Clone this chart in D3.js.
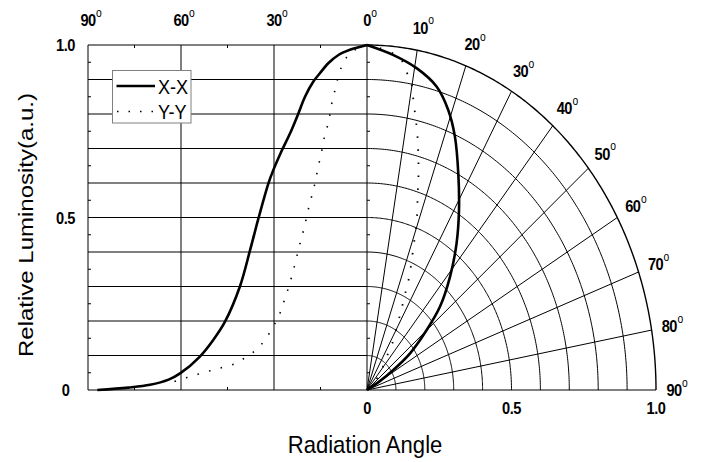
<!DOCTYPE html>
<html>
<head>
<meta charset="utf-8">
<script src="https://cdn.jsdelivr.net/npm/d3@7/dist/d3.min.js"></script>
<style>
  body { margin: 0; background: #fff; }
  svg { display: block; font-family: "Liberation Sans", Arial, sans-serif; }
</style>
</head>
<body>
<svg id="chart"></svg>
<script>
// ---- data ----
// left (cartesian) half: angle in degrees, relative luminosity
const leftAngleXX = [0, 5.5, 9.2, 12.5, 15.2, 17.3, 20, 22.2, 24.8, 27.7, 30.2, 31.8, 35, 37.7, 41, 45.8, 49.6, 53.9, 60.3, 64, 70, 77, 87];
const leftXX      = [1.0, 0.986, 0.971, 0.947, 0.918, 0.894, 0.85, 0.80, 0.744, 0.69, 0.638, 0.599, 0.498, 0.406, 0.30, 0.198, 0.145, 0.097, 0.048, 0.030, 0.015, 0.007, 0.0];
const leftAngleYY = [0, 3, 6, 8.2, 9.5, 10.5, 11.4, 12.1, 13, 14.1, 14.8, 15.7, 16.5, 17.4, 18.5, 19.4, 20.3, 21.4, 22.4, 23.4, 25.2, 27, 28.4, 30.4, 32.9, 36.1, 39.6, 42.9, 46.4, 49.6, 53, 56.2, 59.8, 63];
const leftYY      = [1.0, 0.99, 0.971, 0.937, 0.90, 0.863, 0.829, 0.792, 0.756, 0.72, 0.683, 0.649, 0.612, 0.576, 0.54, 0.504, 0.469, 0.432, 0.396, 0.359, 0.30, 0.251, 0.215, 0.182, 0.145, 0.114, 0.092, 0.075, 0.066, 0.058, 0.05, 0.041, 0.032, 0.022];

// right (polar) half
const polarAngleXX = [0, 5.4, 10.5, 15.3, 19.1, 22.5, 26.7, 31.4, 36.1, 41.2, 46.3, 49.9, 54.5, 57.5, 60, 65];
const polarXX      = [1.0, 0.975, 0.948, 0.912, 0.859, 0.795, 0.703, 0.611, 0.526, 0.436, 0.349, 0.270, 0.183, 0.108, 0.05, 0];
const polarAngleYY = [0, 3, 6.8, 8.5, 10, 10.8, 11.7, 12.7, 13.6, 14.5, 15.5, 16.4, 17.2, 18.3, 19.4, 20.3, 21.4, 24, 25, 26.4, 28, 33.3, 35.2, 41, 50, 60];
const polarYY      = [1.0, 0.99, 0.968, 0.931, 0.895, 0.856, 0.819, 0.782, 0.746, 0.709, 0.667, 0.629, 0.592, 0.555, 0.517, 0.479, 0.438, 0.359, 0.32, 0.278, 0.239, 0.156, 0.118, 0.077, 0.03, 0];

const topAngleTicks = [90, 60, 30, 0];
const polarAngleTicks = [10, 20, 30, 40, 50, 60, 70, 80, 90];
const yTickLabels = [0, 0.5, 1.0];
const rTickLabels = [0, 0.5, 1.0];

const width = 703;
const height = 462;

const svg = d3.select("#chart").attr("width", width).attr("height", height);

// scales
const xL = d3.scaleLinear().domain([90, 0]).range([88, 367]);
const yS = d3.scaleLinear().domain([0, 1]).range([390, 45]);
const rX = d3.scaleLinear().domain([0, 1]).range([0, 289]);
const rY = d3.scaleLinear().domain([0, 1]).range([0, 345]);
const cx = xL(0), cy = yS(0);

const rad = a => a * Math.PI / 180;
const polar = (a, r) => [cx + rX(r) * Math.sin(rad(a)), cy - rY(r) * Math.cos(rad(a))];

const grid = svg.append("g").attr("stroke", "#000").attr("stroke-width", 1).attr("fill", "none");

// left panel gridlines
const tenths = d3.range(1, 11).map(i => i / 10);
tenths.forEach(v => {
    grid.append("line").attr("x1", xL(90)).attr("x2", cx).attr("y1", yS(v)).attr("y2", yS(v));
});
[90, 60, 30, 0].forEach(a => {
    grid.append("line").attr("x1", xL(a)).attr("x2", xL(a)).attr("y1", yS(0)).attr("y2", yS(1));
});
grid.append("line").attr("x1", xL(90)).attr("x2", cx + rX(1)).attr("y1", cy).attr("y2", cy);

// minor ticks
const halves = d3.range(0, 10).map(i => i / 10 + 0.05);
halves.forEach(v => {
    grid.append("line").attr("x1", xL(90)).attr("x2", xL(90) + 3).attr("y1", yS(v)).attr("y2", yS(v));
    grid.append("line").attr("x1", cx).attr("x2", cx + 3).attr("y1", yS(v)).attr("y2", yS(v));
});
[75, 45, 15].forEach(a => {
    grid.append("line").attr("x1", xL(a)).attr("x2", xL(a)).attr("y1", yS(1)).attr("y2", yS(1) + 3);
    grid.append("line").attr("x1", xL(a)).attr("x2", xL(a)).attr("y1", yS(0)).attr("y2", yS(0) - 3);
});

// polar rings and spokes
const arcLine = d3.line();
tenths.forEach(v => {
    grid.append("path")
        .attr("stroke-width", v === 1 ? 1.4 : 1)
        .attr("d", arcLine(d3.range(0, 90.25, 0.5).map(a => polar(a, v))));
});
d3.range(10, 90, 10).forEach(a => {
    const p = polar(a, 1);
    grid.append("line").attr("x1", cx).attr("y1", cy).attr("x2", p[0]).attr("y2", p[1]);
});

// legend
const lg = svg.append("g");
lg.append("rect").attr("x", 112.5).attr("y", 70.5).attr("width", 78.5).attr("height", 52.5)
    .attr("fill", "#fff").attr("stroke", "#808080").attr("stroke-width", 1);
lg.append("line").attr("x1", 116.5).attr("x2", 155).attr("y1", 86).attr("y2", 86)
    .attr("stroke", "#000").attr("stroke-width", 2.5);
lg.append("line").attr("x1", 117).attr("x2", 155).attr("y1", 111.5).attr("y2", 111.5)
    .attr("stroke", "#000").attr("stroke-width", 1.6).attr("stroke-dasharray", "1.5 10");
[["X-X", 94], ["Y-Y", 119]].forEach(([t, y]) => {
    lg.append("text").attr("transform", `translate(158,${y}) scale(0.86,1)`)
        .attr("font-size", 21).text(t);
});

// curves
const curve = d3.curveCatmullRom.alpha(0.5);
const lineL = d3.line().x(d => xL(d[0])).y(d => yS(d[1])).curve(curve);
const lineP = d3.line().x(d => polar(d[0], d[1])[0]).y(d => polar(d[0], d[1])[1]).curve(curve);
const zip = (a, b) => a.map((v, i) => [v, b[i]]);

svg.append("path").attr("d", lineL(zip(leftAngleXX, leftXX)))
    .attr("fill", "none").attr("stroke", "#000").attr("stroke-width", 2.6);
svg.append("path").attr("d", lineL(zip(leftAngleYY, leftYY)))
    .attr("fill", "none").attr("stroke", "#000").attr("stroke-width", 1.6).attr("stroke-dasharray", "1.5 10.5");
svg.append("path").attr("d", lineP(zip(polarAngleXX, polarXX)))
    .attr("fill", "none").attr("stroke", "#000").attr("stroke-width", 2.6);
svg.append("path").attr("d", lineP(zip(polarAngleYY, polarYY)))
    .attr("fill", "none").attr("stroke", "#000").attr("stroke-width", 1.8).attr("stroke-dasharray", "1.5 11.5");

// tick labels
const labels = svg.append("g").attr("fill", "#000");

const addLabel = (x, y, txt, degree) => {
    const g = labels.append("g").attr("transform", `translate(${x},${y}) scale(0.86,1)`);
    const t = g.append("text").attr("text-anchor", "middle").attr("dy", "0.36em")
        .attr("font-size", 17).attr("font-weight", "bold").attr("letter-spacing", -0.6).text(txt);
    if (degree) {
        const w = t.node().getComputedTextLength();
        g.append("text").attr("x", w / 2 + 0.5).attr("y", -3.5)
            .attr("font-size", 12).text("o");
    }
};

topAngleTicks.forEach(a => addLabel(xL(a), 20, String(a), true));
polarAngleTicks.forEach(a => {
    const x = cx + (rX(1) + 18) * Math.sin(rad(a));
    const y = cy - (rY(1) + 23) * Math.cos(rad(a));
    addLabel(x, y, String(a), true);
});
yTickLabels.forEach(v => addLabel(65.5, yS(v), v === 0 ? "0" : v.toFixed(1), false));
rTickLabels.forEach(v => addLabel(cx + rX(v), 408, v === 0 ? "0" : v.toFixed(1), false));

// axis titles
svg.append("text").attr("transform", "translate(365,453) scale(0.92,1)")
    .attr("text-anchor", "middle").attr("font-size", 24).text("Radiation Angle");
svg.append("text").attr("transform", "translate(33,225) rotate(-90) scale(1,0.88)")
    .attr("text-anchor", "middle").attr("font-size", 24).text("Relative Luminosity(a.u.)");
</script>
</body>
</html>
